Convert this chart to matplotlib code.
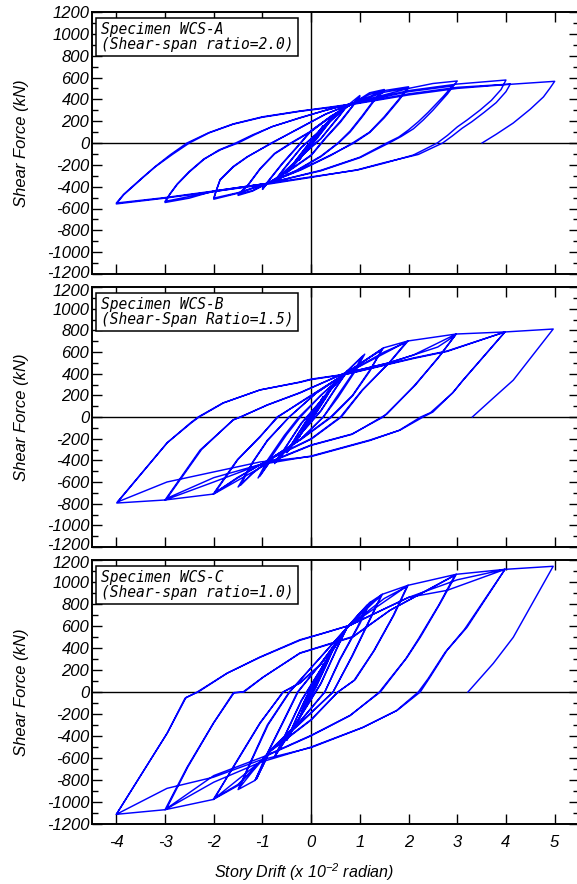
import matplotlib
matplotlib.use('Agg')
import matplotlib.pyplot as plt
import matplotlib.transforms as mtrans
import numpy as np

# (story drift x1e-2 rad, shear force kN), in loading order
wcs_a = [
    # +-0.25
    (0, 0), (0.12, 85), (0.25, 160), (0.1, 60), (0, 5), (-0.12, -80), (-0.25, -160), (-0.1, -60), (0, -5),
    (0.12, 80), (0.25, 155), (0.1, 60), (0, 5), (-0.12, -80), (-0.25, -155), (-0.1, -60), (0, -5),
    # +-0.5
    (0.25, 150), (0.5, 270), (0.3, 150), (0.1, 35), (-0.2, -125), (-0.5, -275), (-0.3, -150), (-0.1, -35),
    (0.2, 125), (0.5, 265), (0.3, 145), (0.1, 30), (-0.2, -125), (-0.5, -270), (-0.3, -150), (-0.1, -35), (0.2, 125),
    # +-0.75
    (0.5, 270), (0.75, 350), (0.55, 235), (0.2, 40), (-0.3, -160), (-0.75, -350), (-0.55, -235), (-0.2, -40),
    (0.3, 160), (0.75, 345), (0.55, 230), (0.2, 40), (-0.3, -160), (-0.75, -345), (-0.55, -230), (-0.2, -40),
    (0.3, 160), (0.75, 345),
    # +-1.0
    (1.0, 435), (0.85, 340), (0.6, 200), (0.3, 50), (0.0, -110), (-0.45, -250), (-0.9, -370), (-1.0, -425),
    (-0.85, -335), (-0.6, -195), (-0.3, -45), (0.0, 110), (0.45, 255), (0.87, 366), (1.0, 425),
    (0.85, 335), (0.6, 190), (0.3, 45), (0.0, -115), (-0.45, -255), (-0.9, -370), (-1.0, -415),
    (-0.85, -330), (-0.6, -190), (-0.3, -40), (0.0, 115), (0.45, 255), (0.87, 366),
    # +-1.5
    (1.2, 460), (1.5, 490), (1.3, 400), (1.05, 250), (0.8, 110), (0.55, 0), (0.2, -120), (-0.3, -250),
    (-0.9, -370), (-1.2, -440), (-1.5, -480),
    (-1.3, -390), (-1.05, -240), (-0.75, -100), (-0.4, 0), (0.0, 105), (0.4, 240), (0.87, 366), (1.2, 445), (1.5, 480),
    (1.3, 390), (1.05, 240), (0.8, 100), (0.55, -5), (0.2, -125), (-0.3, -255), (-0.9, -370), (-1.2, -435), (-1.5, -470),
    (-1.3, -385), (-1.05, -235), (-0.75, -95), (-0.4, 5), (0.0, 110), (0.4, 245), (0.87, 366),
    # +-2
    (1.5, 480), (2.0, 515), (1.9, 455), (1.8, 400), (1.5, 240), (1.2, 100), (0.85, 0), (0.4, -115), (-0.2, -245),
    (-0.9, -370), (-1.5, -460), (-2.0, -515),
    (-1.95, -440), (-1.87, -340), (-1.6, -220), (-1.31, -128), (-0.82, 0), (-0.23, 137), (0.3, 265), (0.87, 366),
    (1.5, 465), (2.0, 505),
    (1.9, 450), (1.8, 390), (1.5, 230), (1.2, 95), (0.88, 0), (0.4, -110), (-0.2, -240), (-0.9, -370), (-1.5, -455),
    (-2.0, -505),
    (-1.95, -435), (-1.87, -335), (-1.6, -215), (-1.31, -125), (-0.8, 0), (-0.23, 140), (0.3, 265), (0.87, 366),
    # +-3
    (2.0, 500), (2.5, 545), (3.0, 568), (2.9, 510), (2.8, 450), (2.5, 300), (2.3, 210), (2.1, 130), (1.85, 60),
    (1.6, 0), (1.0, -135), (0.2, -255), (-0.9, -370), (-2.0, -440), (-2.5, -505), (-3.0, -545),
    (-2.9, -470), (-2.75, -380), (-2.5, -265), (-2.2, -150), (-1.9, -65), (-1.55, 0), (-1.2, 75), (-0.8, 150),
    (-0.23, 229), (0.3, 300), (0.87, 366), (2.0, 470), (2.9, 522),
    (2.8, 470), (2.7, 420), (2.4, 280), (2.2, 195), (2.0, 120), (1.8, 55), (1.55, 0), (1.0, -130), (0.2, -250),
    (-0.9, -370), (-2.0, -445), (-3.0, -535),
    (-2.9, -465), (-2.75, -375), (-2.5, -260), (-2.2, -145), (-1.85, -60), (-1.5, 0), (-1.15, 78), (-0.8, 150),
    (-0.23, 232), (0.3, 300), (0.87, 366),
    # +-4
    (2.0, 480), (3.0, 540), (4.0, 577), (3.9, 490), (3.7, 390), (3.47, 302), (3.2, 210), (3.0, 147), (2.8, 70),
    (2.59, 0), (2.1, -110), (1.5, -185), (0.95, -248), (0.0, -310), (-0.9, -370), (-2.0, -440), (-3.0, -500),
    (-4.0, -550),
    (-3.85, -470), (-3.65, -390), (-3.45, -311), (-3.2, -215), (-2.9, -110), (-2.55, 0), (-2.1, 95), (-1.6, 175),
    (-1.0, 240), (-0.23, 293), (0.4, 330), (0.87, 360), (2.0, 450), (3.0, 510), (4.09, 540),
    (4.0, 470), (3.8, 370), (3.55, 280), (3.3, 195), (3.1, 135), (2.9, 65), (2.7, 0), (2.2, -105), (1.5, -180),
    (0.95, -245), (0.0, -315), (-0.9, -378), (-2.0, -445), (-3.0, -505), (-4.0, -558),
    (-3.85, -475), (-3.65, -395), (-3.45, -315), (-3.2, -218), (-2.85, -105), (-2.5, 0), (-2.1, 92), (-1.6, 172),
    (-1.0, 236), (-0.23, 290), (0.4, 325), (0.87, 355), (2.0, 440), (3.0, 500), (4.0, 535),
    # +5
    (5.0, 565), (4.9, 500), (4.77, 422), (4.5, 310), (4.15, 183), (3.8, 80), (3.51, 0),
]

wcs_b = [
    # +-0.25
    (0, 0), (0.25, 190), (0.1, 60), (-0.1, -70), (-0.25, -190), (-0.1, -60), (0.1, 70), (0.25, 185),
    (0.1, 60), (-0.1, -70), (-0.25, -185), (-0.1, -60), (0.1, 70),
    # +-0.5
    (0.5, 330), (0.3, 180), (0.1, 40), (-0.2, -150), (-0.5, -330), (-0.3, -180), (-0.1, -40), (0.2, 150),
    (0.5, 325), (0.3, 175), (0.1, 35), (-0.2, -150), (-0.5, -325), (-0.3, -175), (-0.1, -35), (0.2, 150),
    # +-0.75
    (0.75, 430), (0.55, 300), (0.2, 60), (-0.3, -200), (-0.75, -430), (-0.55, -300), (-0.2, -60), (0.3, 200),
    (0.75, 425), (0.55, 295), (0.2, 55), (-0.3, -200), (-0.75, -420), (-0.55, -295), (-0.2, -55), (0.3, 200), (0.66, 388),
    # +-1.0
    (1.1, 580), (0.9, 420), (0.55, 180), (0.25, 0), (-0.2, -200), (-0.78, -370), (-1.09, -563),
    (-0.9, -400), (-0.55, -170), (-0.25, 0), (0.2, 200), (0.66, 388), (1.05, 560),
    (0.85, 400), (0.5, 170), (0.25, 0), (-0.2, -200), (-0.78, -370), (-1.05, -545),
    (-0.85, -390), (-0.5, -160), (-0.22, 0), (0.2, 200), (0.66, 388),
    # +-1.5
    (1.48, 637), (1.2, 430), (0.85, 200), (0.4, 0), (-0.2, -200), (-0.78, -370), (-1.2, -520), (-1.5, -646),
    (-1.2, -420), (-0.9, -220), (-0.45, 0), (0.1, 220), (0.66, 388), (1.1, 520), (1.45, 620),
    (1.2, 420), (0.85, 195), (0.42, 0), (-0.2, -205), (-0.78, -375), (-1.2, -515), (-1.45, -630),
    (-1.2, -415), (-0.9, -215), (-0.45, 0), (0.1, 220), (0.66, 388),
    # +-2
    (1.5, 640), (1.99, 702), (1.62, 508), (1.05, 250), (0.6, 0), (0.0, -200), (-0.78, -370), (-1.5, -560), (-2.01, -711),
    (-1.52, -397), (-1.05, -185), (-0.7, 0), (-0.23, 130), (0.66, 388), (1.5, 600), (1.95, 690),
    (1.6, 500), (1.05, 245), (0.62, 0), (0.0, -205), (-0.78, -375), (-1.5, -555), (-1.98, -700),
    (-1.5, -390), (-1.05, -180), (-0.68, 0), (-0.23, 135), (0.66, 388),
    # +-3
    (1.99, 702), (2.98, 766), (2.65, 572), (2.14, 295), (1.56, 37), (1.48, 0), (0.84, -157), (0.0, -258),
    (-0.78, -400), (-2.0, -711), (-3.0, -766),
    (-2.28, -305), (-1.6, -28), (-1.46, 0), (-0.9, 110), (-0.23, 222), (0.66, 400), (1.58, 498), (2.1, 572),
    (2.6, 646), (2.95, 750),
    (2.6, 540), (2.1, 280), (1.55, 25), (1.45, 0), (0.84, -160), (0.0, -262), (-0.78, -405), (-2.0, -560), (-2.96, -750),
    (-2.25, -300), (-1.6, -25), (-1.44, 0), (-0.9, 112), (-0.23, 225), (0.66, 400),
    # +-4
    (1.58, 498), (2.1, 572), (2.98, 766), (3.98, 785), (3.12, 340), (2.92, 230), (2.5, 46), (2.3, 0),
    (1.83, -120), (1.21, -212), (0.0, -360), (-1.05, -440), (-2.0, -600), (-3.0, -766), (-3.99, -794),
    (-2.96, -240), (-2.48, -55), (-2.32, 0), (-1.81, 130), (-1.05, 250), (-0.23, 323), (0.0, 350), (0.73, 397),
    (2.1, 545), (2.79, 609), (3.98, 785),
    (3.1, 330), (2.9, 220), (2.45, 40), (2.25, 0), (1.8, -125), (1.2, -218), (0.0, -365), (-1.05, -415),
    (-2.01, -508), (-2.96, -600), (-3.98, -785),
    (-2.95, -235), (-2.45, -50), (-2.3, 0), (-1.8, 130), (-1.05, 250), (-0.23, 320), (0.0, 345), (0.73, 395),
    (2.1, 540), (2.79, 605), (3.98, 785),
    # +5
    (4.97, 812), (4.15, 340), (3.74, 175), (3.31, 0),
]

wcs_c = [
    # +-0.25
    (0, 0), (0.25, 250), (0.1, 80), (-0.1, -90), (-0.25, -250), (-0.1, -80), (0.1, 90), (0.25, 245),
    (0.1, 80), (-0.1, -90), (-0.25, -245), (-0.1, -80), (0.1, 90),
    # +-0.5
    (0.5, 440), (0.3, 240), (0.1, 50), (-0.2, -200), (-0.5, -440), (-0.3, -240), (-0.1, -50), (0.2, 200),
    (0.5, 435), (0.3, 235), (0.1, 45), (-0.2, -200), (-0.5, -435), (-0.3, -235), (-0.1, -45), (0.2, 200),
    # +-0.75
    (0.75, 600), (0.55, 420), (0.2, 80), (-0.3, -280), (-0.75, -590), (-0.55, -410), (-0.2, -80), (0.3, 280),
    (0.75, 595), (0.55, 415), (0.2, 75), (-0.3, -280), (-0.75, -585), (-0.55, -405), (-0.2, -75), (0.3, 280),
    # +-1.0
    (0.74, 588), (1.0, 720), (1.21, 815), (1.0, 620), (0.6, 300), (0.28, 0), (-0.2, -250), (-0.84, -530),
    (-1.0, -680), (-1.15, -803),
    (-0.95, -600), (-0.6, -290), (-0.28, 0), (0.2, 260), (0.74, 588), (1.15, 790),
    (0.95, 590), (0.58, 290), (0.28, 0), (-0.2, -255), (-0.84, -530), (-1.12, -790),
    (-0.93, -590), (-0.58, -280), (-0.27, 0), (0.2, 260), (0.74, 588),
    # +-1.5
    (1.21, 815), (1.46, 888), (1.2, 650), (0.85, 330), (0.45, 0), (-0.2, -270), (-0.84, -530), (-1.15, -803), (-1.5, -887),
    (-1.25, -640), (-0.9, -300), (-0.45, 0), (0.1, 270), (0.74, 588), (1.1, 760), (1.44, 880),
    (1.18, 640), (0.83, 320), (0.45, 0), (-0.2, -275), (-0.84, -535), (-1.2, -720), (-1.48, -875),
    (-1.23, -630), (-0.88, -295), (-0.44, 0), (0.1, 270), (0.74, 588),
    # +-2
    (1.46, 888), (1.99, 970), (1.7, 700), (1.3, 380), (0.9, 110), (0.55, 0), (0.0, -250), (-0.84, -535),
    (-1.5, -850), (-2.01, -977),
    (-1.6, -686), (-1.05, -285), (-0.58, 0), (-0.23, 80), (0.2, 250), (0.74, 588), (1.5, 850), (1.97, 960),
    (1.68, 690), (1.28, 370), (0.88, 105), (0.55, 0), (0.0, -255), (-0.84, -540), (-1.5, -840), (-1.98, -965),
    (-1.6, -680), (-1.05, -280), (-0.57, 0), (-0.23, 85), (0.2, 255), (0.74, 588),
    # +-3
    (1.99, 970), (2.98, 1070), (2.65, 806), (2.24, 497), (1.97, 315), (1.42, 0), (0.8, -212), (0.0, -394),
    (-0.84, -560), (-2.01, -977), (-3.0, -1070),
    (-2.55, -686), (-2.01, -285), (-1.6, -9), (-1.4, 0), (-0.99, 134), (-0.23, 352), (0.86, 500), (1.62, 743),
    (2.95, 1060),
    (2.62, 790), (2.2, 480), (1.94, 300), (1.4, 0), (0.8, -215), (0.0, -398), (-0.84, -565), (-2.0, -760), (-2.97, -1060),
    (-2.53, -680), (-2.0, -280), (-1.58, -5), (-1.38, 0), (-0.98, 136), (-0.23, 355), (0.86, 505), (1.62, 743),
    # +-4
    (2.98, 1070), (3.98, 1115), (3.2, 588), (2.79, 379), (2.44, 134), (2.24, 0), (1.77, -166), (1.07, -320),
    (0.0, -500), (-1.05, -640), (-2.0, -820), (-3.0, -1070), (-4.0, -1112),
    (-2.96, -377), (-2.59, -57), (-2.34, 0), (-1.73, 170), (-1.05, 315), (-0.23, 470), (0.25, 533), (0.8, 606),
    (2.0, 860), (2.79, 924), (3.98, 1115),
    (3.15, 570), (2.75, 360), (2.4, 120), (2.2, 0), (1.75, -170), (1.05, -325), (0.0, -505), (-1.05, -620),
    (-2.01, -775), (-2.96, -876), (-4.0, -1112),
    (-2.95, -370), (-2.57, -50), (-2.32, 0), (-1.72, 172), (-1.05, 318), (-0.23, 475), (0.25, 535), (0.8, 608),
    (2.0, 860), (3.0, 1020), (3.98, 1115),
    # +5
    (4.97, 1143), (4.15, 497), (3.74, 260), (3.22, 0),
]

specimens = [wcs_a, wcs_b, wcs_c]
labels = ['Specimen WCS-A\n(Shear-span ratio=2.0)',
          'Specimen WCS-B\n(Shear-Span Ratio=1.5)',
          'Specimen WCS-C\n(Shear-span ratio=1.0)']
drift_ticks = [-4, -3, -2, -1, 0, 1, 2, 3, 4, 5]
shear_ticks = list(range(-1200, 1201, 200))

W, H = 577, 884
plt.rcParams['font.family'] = ['Liberation Sans', 'DejaVu Sans']
plt.rcParams['axes.unicode_minus'] = False
plt.rcParams['mathtext.fontset'] = 'custom'
plt.rcParams['mathtext.it'] = 'Liberation Sans:italic'
plt.rcParams['mathtext.rm'] = 'Liberation Sans:italic'
fig = plt.figure(figsize=(W / 100, H / 100), dpi=100)

# panel pixel extents (top, bottom)
panels = [(12, 274), (287, 547), (560, 824)]
left_px, right_px = 92, 579

for i, (pts, lab, (top, bot)) in enumerate(zip(specimens, labels, panels)):
    ax = fig.add_axes([left_px / W, 1 - bot / H, (right_px - left_px) / W, (bot - top) / H])
    d = [p[0] for p in pts]
    v = [p[1] for p in pts]
    ax.axhline(0, color='black', lw=1.0, zorder=1)
    ax.axvline(0, color='black', lw=1.0, zorder=1)
    ax.plot(d, v, color='#0000ff', lw=1.05, zorder=2)
    ax.set_xlim(-4.5, 5.5)
    ax.set_ylim(-1200, 1200)
    ax.set_xticks(drift_ticks)
    ax.set_yticks(shear_ticks)
    ax.set_yticks(range(-1100, 1200, 200), minor=True)
    ax.tick_params(which='both', direction='in', top=True, right=True, width=1.0)
    ax.tick_params(which='major', length=7)
    ax.tick_params(which='minor', length=4)
    ax.tick_params(axis='y', labelsize=12, pad=2)
    ax.tick_params(axis='x', labelsize=12, pad=8)
    for t in ax.get_yticklabels() + ax.get_xticklabels():
        t.set_style('italic')
    if i < 2:
        ax.set_xticklabels([])
    # the end labels of stacked panels sit very close; nudge them apart a little
    yt = ax.yaxis.get_major_ticks()
    if i > 0:
        lbl = yt[-1].label1
        lbl.set_transform(lbl.get_transform() + mtrans.ScaledTranslation(0, -2.5 / 100, fig.dpi_scale_trans))
    if i < 2:
        lbl = yt[0].label1
        lbl.set_transform(lbl.get_transform() + mtrans.ScaledTranslation(0, 2.5 / 100, fig.dpi_scale_trans))
    for s in ax.spines.values():
        s.set_linewidth(1.4)
    ax.set_ylabel('Shear Force (kN)', fontsize=12, style='italic')
    ax.yaxis.set_label_coords(-0.13, 0.5)
    ax.text(0.018, 0.962, lab, transform=ax.transAxes, ha='left', va='top',
            family='DejaVu Sans Mono', style='italic', fontsize=10.5, linespacing=1.0,
            bbox=dict(boxstyle='square,pad=0.3', fc='white', ec='black', lw=1.1), zorder=5)

fig.text(304 / W, 1 - 872 / H, 'Story Drift (x 10$^{-2}$ radian)', ha='center', va='center',
         fontsize=11.5, style='italic')

plt.savefig('out.png', dpi=100)
